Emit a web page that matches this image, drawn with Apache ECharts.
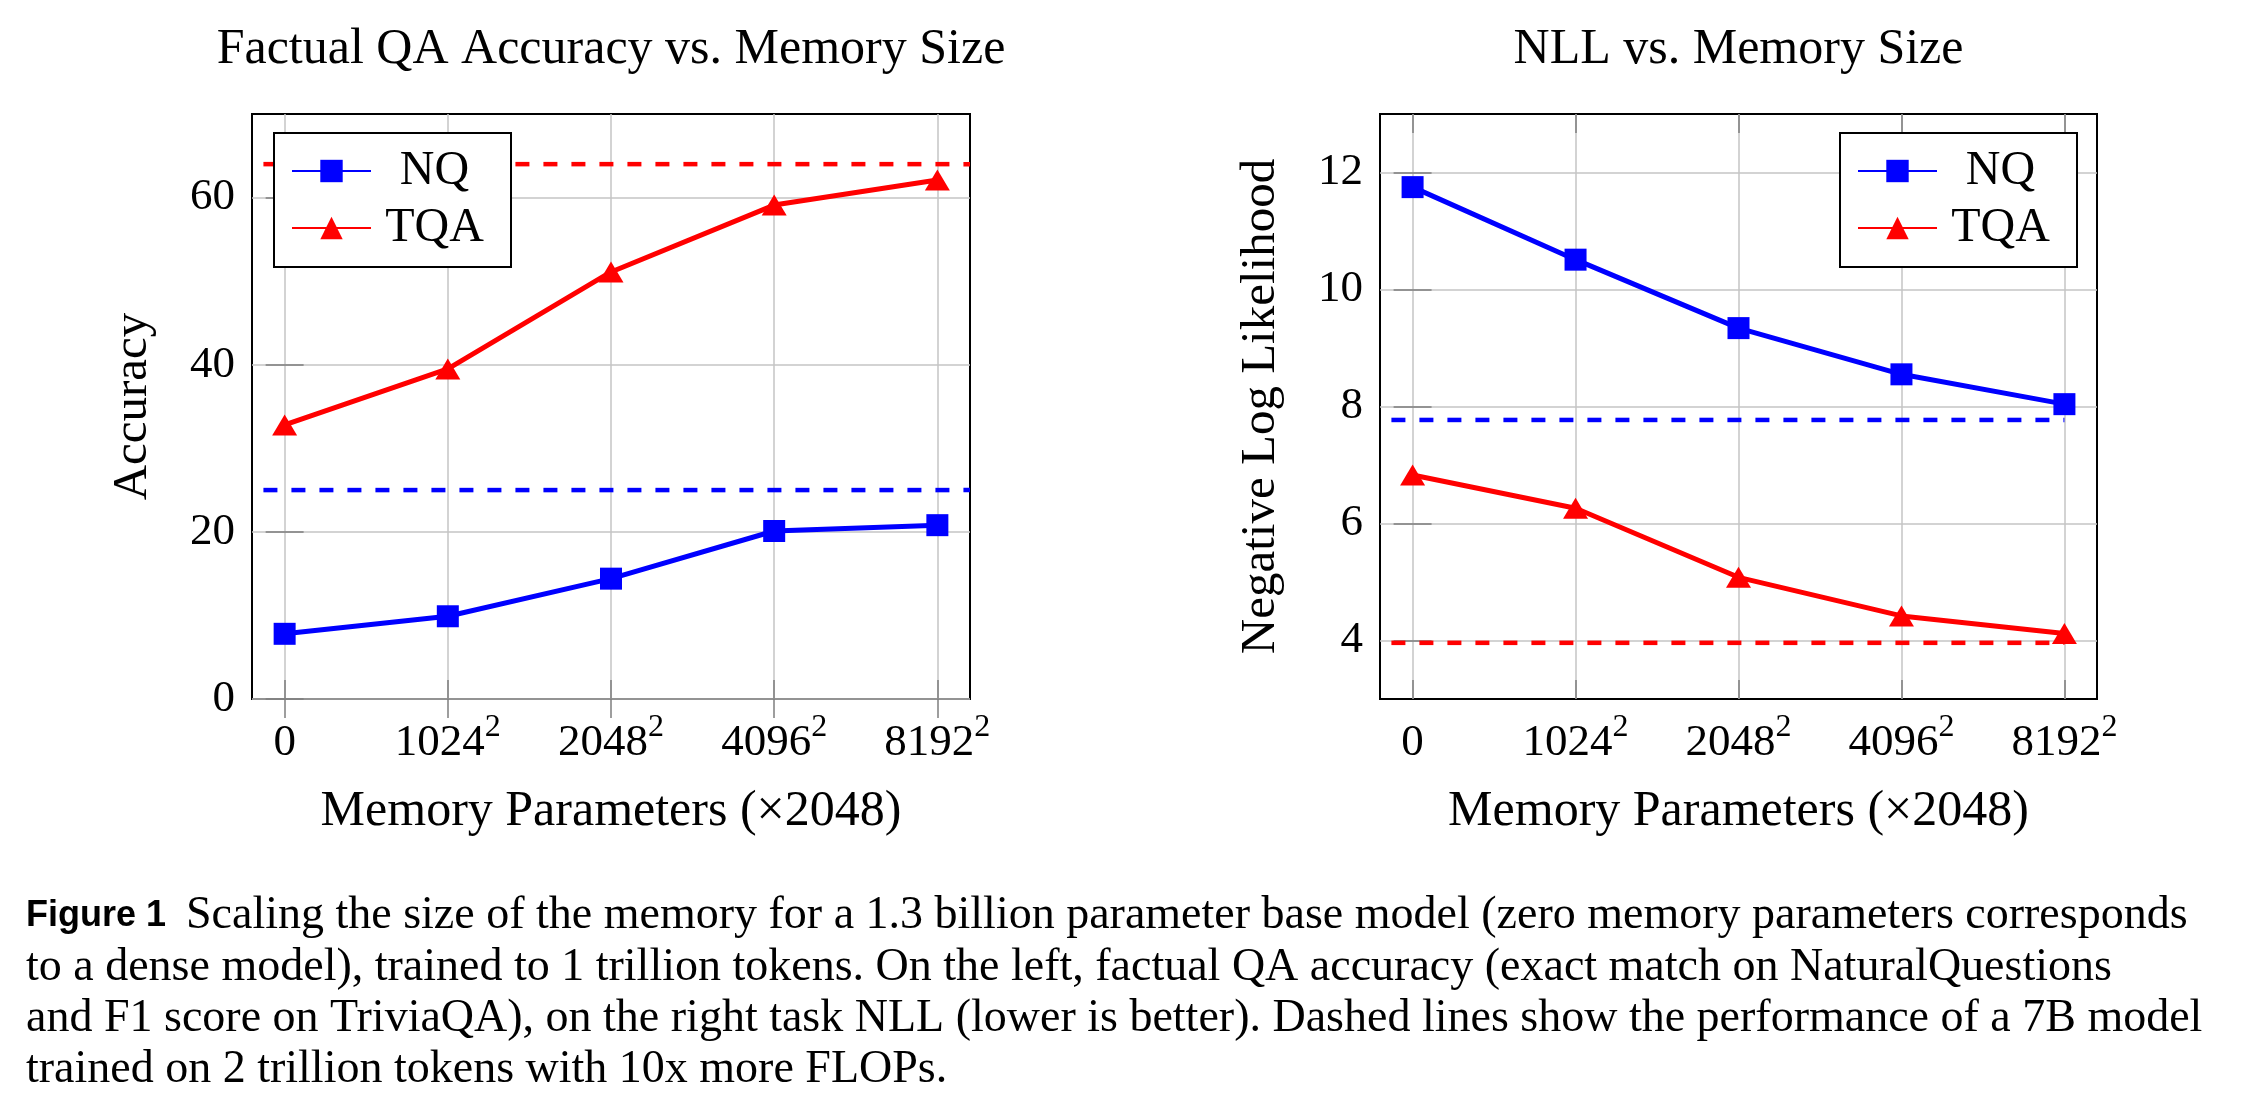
<!DOCTYPE html>
<html><head><meta charset="utf-8">
<script src="https://cdn.jsdelivr.net/npm/echarts@6/dist/echarts.min.js"></script>
<style>html,body{margin:0;padding:0;background:#fff}#c{width:2243px;height:1109px}</style>
</head><body><div id="c"></div>
<script>
// ---------- data ----------
const tickBase = ['0', '1024', '2048', '4096', '8192'];
const tickExp  = ['', '2', '2', '2', '2'];
const seriesNames = ['NQ', 'TQA'];

const accNQ  = [7.8, 9.9, 14.4, 20.1, 20.8];
const accTQA = [32.8, 39.5, 51.1, 59.1, 62.1];
const accRefNQ = 25;
const accRefTQA = 64;
const accRefSpan = [-0.13, 4.2];
const accYTicks = [0, 20, 40, 60];
const accYRange = [0, 70];

const nllNQ  = [11.75, 10.51, 9.34, 8.55, 8.04];
const nllTQA = [6.83, 6.26, 5.08, 4.42, 4.12];
const nllRefNQ = 7.77;
const nllRefTQA = 3.96;
const nllRefSpan = [-0.13, 4];
const nllYTicks = [4, 6, 8, 10, 12];
const nllYRange = [3, 13];

const xRange = [-0.2, 4.2];

const titles = ['Factual QA Accuracy vs. Memory Size', 'NLL vs. Memory Size'];
const xName = 'Memory Parameters (\u00d72048)';
const yNames = ['Accuracy', 'Negative Log Likelihood'];

const captionLabel = 'Figure 1';
const captionLines = [
  'Scaling the size of the memory for a 1.3 billion parameter base model (zero memory parameters corresponds',
  'to a dense model), trained to 1 trillion tokens. On the left, factual QA accuracy (exact match on NaturalQuestions',
  'and F1 score on TriviaQA), on the right task NLL (lower is better). Dashed lines show the performance of a 7B model',
  'trained on 2 trillion tokens with 10x more FLOPs.'
];

// ---------- styling ----------
const SERIF = '"Liberation Serif", "Times New Roman", serif';
const BLUE = '#0000ff', RED = '#ff0000';
const GRID_C = '#c4c4c4', TICK_C = '#7f7f7f';
const LW = 5;
const xTickVals = tickBase.map((_, i) => i);

const grids = [
  { left: 252, top: 114, width: 718, height: 585 },
  { left: 1380, top: 114, width: 717, height: 585 }
];

function xAxisDef(gi, pos) {
  const main = pos === 'bottom';
  return {
    type: 'value', gridIndex: gi, position: pos, min: xRange[0], max: xRange[1],
    axisLine: { show: false },
    axisTick: { show: true, inside: true, length: 19, customValues: xTickVals,
                lineStyle: { color: TICK_C, width: 1.5 } },
    axisLabel: {
      show: main, customValues: xTickVals, margin: 13, color: '#000',
      formatter: v => {
        const i = Math.round(v);
        return tickExp[i] ? '{n|' + tickBase[i] + '}{s|' + tickExp[i] + '}' : '{n|' + tickBase[i] + '}';
      },
      rich: {
        n: { fontFamily: SERIF, fontSize: 45, lineHeight: 54, verticalAlign: 'bottom', color: '#000' },
        s: { fontFamily: SERIF, fontSize: 32, lineHeight: 32, verticalAlign: 'top', color: '#000' }
      }
    },
    splitLine: { show: main, lineStyle: { color: GRID_C, width: 1.5 } },
    name: main ? xName : '', nameLocation: 'middle', nameGap: 88,
    nameTextStyle: { fontFamily: SERIF, fontSize: 50, color: '#000', lineHeight: 50 }
  };
}

function yAxisDef(gi, pos, range, ticks, name) {
  const main = pos === 'left';
  return {
    type: 'value', gridIndex: gi, position: pos, min: range[0], max: range[1],
    axisLine: { show: false },
    axisTick: { show: true, inside: true, length: 19, customValues: ticks,
                lineStyle: { color: TICK_C, width: 1.5 } },
    axisLabel: { show: main, customValues: ticks, margin: 17, color: '#000',
                 fontFamily: SERIF, fontSize: 45 },
    splitLine: { show: main, lineStyle: { color: GRID_C, width: 1.5 } },
    name: main ? name : '', nameLocation: 'middle', nameGap: 94, nameRotate: 90,
    nameTextStyle: { fontFamily: SERIF, fontSize: 49, color: '#000', lineHeight: 49 }
  };
}

function mainSeries(name, vals, xi, yi, symbol, size, color) {
  return {
    type: 'line', name: name, xAxisIndex: xi, yAxisIndex: yi,
    data: vals.map((v, i) => [i, v]),
    symbol: symbol, symbolSize: size, showSymbol: true,
    color: color, itemStyle: { color: color },
    lineStyle: { color: color, width: LW }, z: 4, silent: true, animation: false
  };
}
function refSeries(name, val, span, xi, yi, color) {
  return {
    type: 'line', name: name, xAxisIndex: xi, yAxisIndex: yi,
    data: span.map(x => [x, val]), symbol: 'none', clip: true,
    lineStyle: { color: color, width: 4.5, type: [14, 14] }, z: 3, silent: true, animation: false
  };
}

function legendDef(left) {
  return {
    data: seriesNames, orient: 'vertical', left: left, top: 133,
    padding: [14, 18, 15, 17], itemGap: 9, itemWidth: 79, itemHeight: 28,
    borderColor: '#000', borderWidth: 2, backgroundColor: '#fff',
    selectedMode: false,
    formatter: '{c|{name}}',
    textStyle: {
      rich: { c: { width: 117, align: 'center', fontFamily: SERIF, fontSize: 48, lineHeight: 48, color: '#000' } }
    }
  };
}

const chart = echarts.init(document.getElementById('c'), null, { renderer: 'canvas' });

const graphics = [
  { type: 'text', x: 26, y: 916, style: { text: captionLabel, font: 'bold 36px "Liberation Sans", Arial, sans-serif', fill: '#000', verticalAlign: 'middle', align: 'left' } }
];
const capX = [186, 26, 26, 26];
const capY = [916, 968, 1019, 1070];
captionLines.forEach((t, i) => {
  graphics.push({ type: 'text', x: capX[i], y: capY[i],
    style: { text: t, font: '46px ' + SERIF, fill: '#000', verticalAlign: 'middle', align: 'left' } });
});

chart.setOption({
  animation: false,
  backgroundColor: '#fff',
  title: titles.map((t, i) => ({
    text: t, left: grids[i].left + grids[i].width / 2, top: 25, textAlign: 'center', padding: 0,
    textStyle: { fontFamily: SERIF, fontSize: 50, fontWeight: 'normal', color: '#000', lineHeight: 50 }
  })),
  grid: grids.map(g => Object.assign({ show: true, borderColor: '#000', borderWidth: 2, backgroundColor: 'transparent', containLabel: false }, g)),
  legend: [legendDef(274), legendDef(1840)],
  xAxis: [xAxisDef(0, 'bottom'), xAxisDef(0, 'top'), xAxisDef(1, 'bottom'), xAxisDef(1, 'top')],
  yAxis: [
    yAxisDef(0, 'left', accYRange, accYTicks, yNames[0]),
    yAxisDef(0, 'right', accYRange, accYTicks, ''),
    yAxisDef(1, 'left', nllYRange, nllYTicks, yNames[1]),
    yAxisDef(1, 'right', nllYRange, nllYTicks, '')
  ],
  series: [
    refSeries('NQ 7B', accRefNQ, accRefSpan, 0, 0, BLUE),
    refSeries('TQA 7B', accRefTQA, accRefSpan, 0, 0, RED),
    mainSeries('NQ', accNQ, 0, 0, 'rect', 22, BLUE),
    mainSeries('TQA', accTQA, 0, 0, 'triangle', [25, 21], RED),
    refSeries('NQ 7B', nllRefNQ, nllRefSpan, 2, 2, BLUE),
    refSeries('TQA 7B', nllRefTQA, nllRefSpan, 2, 2, RED),
    mainSeries('NQ', nllNQ, 2, 2, 'rect', 22, BLUE),
    mainSeries('TQA', nllTQA, 2, 2, 'triangle', [25, 21], RED)
  ],
  graphic: graphics
});
</script></body></html>
